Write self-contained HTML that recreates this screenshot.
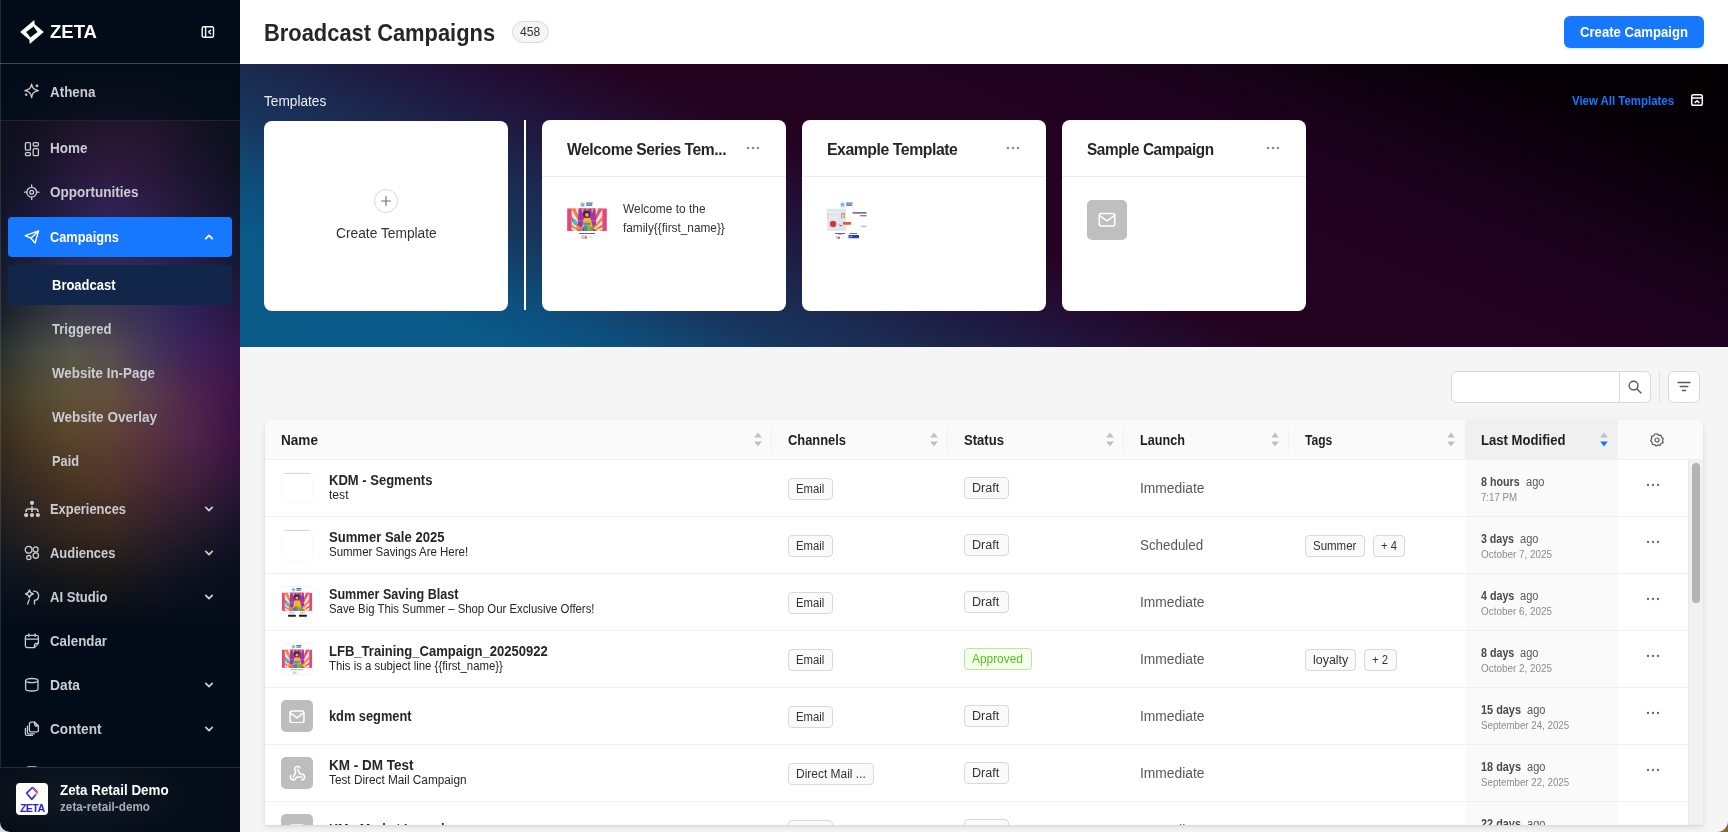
<!DOCTYPE html>
<html lang="en">
<head>
<meta charset="utf-8">
<title>Broadcast Campaigns</title>
<style>
*{box-sizing:border-box;margin:0;padding:0}
html,body{width:1728px;height:832px;overflow:hidden;background:#f5f5f5;font-family:"Liberation Sans",sans-serif;color:#222}
.abs{position:absolute}
.sx{display:inline-block;transform-origin:0 50%;transform:scaleX(.9)}
#side{position:absolute;left:0;top:0;width:240px;height:832px;background:#020c18;overflow:hidden;color:#cfd3da}
#side .glow{position:absolute;left:0;top:0;width:240px;height:832px}
.gs{position:absolute;left:0;width:240px}
.gm{position:absolute;left:0;top:0;width:100%;height:100%;-webkit-mask-image:linear-gradient(180deg,transparent,#000);mask-image:linear-gradient(180deg,transparent,#000)}
#side .top{position:absolute;left:0;top:0;width:240px;height:64px;background:#020c18;border-bottom:1px solid #444547}
#side .ath{position:absolute;left:0;top:64px;width:240px;height:57px;border-bottom:1px solid #1f2230}
.nav{position:absolute;left:8px;width:224px;height:40px;border-radius:4px;font-size:15px;font-weight:700;line-height:40px;color:#c9ccd2}
.nav span{position:absolute;left:42px;top:0;white-space:nowrap;display:inline-block;transform-origin:0 50%}
.nav.sub span{left:44px}
.nav svg.ic{position:absolute;left:16px;top:12px;width:16px;height:16px}
.nav svg.ch{position:absolute;left:195px;top:14px;width:12px;height:12px}
.nav.active{background:#1677ff;color:#fff}
.nav.sel{background:#12264a;color:#fff}
#foot{position:absolute;left:0;top:767px;width:240px;height:65px;background:radial-gradient(ellipse 120px 46px at 80px 28px,#111b26 0%,#0a131e 50%,#030c17 100%);border-top:1px solid #232a35}
#hdr{position:absolute;left:240px;top:0;width:1488px;height:64px;background:#fff}
#tpl{position:absolute;left:240px;top:64px;width:1488px;height:283px;overflow:hidden;background:#140316}
#tpl .bg1{position:absolute;left:0;top:0;width:1488px;height:283px;background:linear-gradient(22.7deg,#0a5a88 0%,#095a88 12%,#0d4f7e 18%,#17375f 25%,#1b2a50 31%,#21123a 40%,#240320 48%,#1f0220 69%,#060006 89%,#020002 100%)}
.card{position:absolute;top:56px;width:244px;height:191px;background:#fff;border-radius:8px}
.card .t{position:absolute;left:25px;top:21px;font-size:16px;font-weight:700;color:#262626;white-space:nowrap;letter-spacing:-.45px}
.card .hr{position:absolute;left:0;top:56px;width:244px;height:1px;background:#ececec}
.card .dots{position:absolute;left:204px;top:26px;width:14px;height:4px}
#tblsh{position:absolute;left:265px;top:420px;width:1438px;height:405px;background:#fff;border-radius:8px 8px 0 0;box-shadow:0 1px 2px rgba(0,0,0,.06),0 2px 6px rgba(0,0,0,.10)}
#tbl{position:absolute;left:264px;top:420px;width:1439px;height:405px;background:#fff;overflow:hidden;clip-path:inset(0 0 0 1px round 8px 8px 0 0)}

#tbl .hd{position:absolute;left:0;top:0;width:1439px;height:40px;background:#fafafa;border-bottom:1px solid #f0f0f0}
#tbl .hd .lm{position:absolute;left:1201px;top:0;width:153px;height:40px;background:#f0f0f0}
.th{position:absolute;top:12px;font-size:14px;font-weight:700;line-height:16px;color:#1f1f1f;white-space:nowrap}
.vs{position:absolute;top:9px;width:1px;height:22px;background:#f0f0f0}
.sort{position:absolute;top:12px;width:8px;height:15px}
.row{position:absolute;left:0;width:1439px;height:57px;border-bottom:1px solid #f0f0f0;background:#fff}
.row .lmc{position:absolute;left:1201px;top:0;width:153px;height:56px;background:#fafafa}
.row .nm{position:absolute;left:65px;top:13px;font-size:14px;font-weight:700;line-height:14px;color:#262626;white-space:nowrap}
.row .sb{position:absolute;left:65px;top:28px;font-size:12px;line-height:14px;color:#262626;white-space:nowrap}
.tag{position:absolute;height:22px;border:1px solid #d9d9d9;background:#fafafa;border-radius:4px}
.tg{position:absolute;font-size:12px;line-height:14px;color:#333;white-space:nowrap}
.row .ln{position:absolute;left:876px;top:20px;font-size:14px;line-height:16px;color:#595959;white-space:nowrap}
.row .d1{position:absolute;left:1217px;top:15px;font-size:12px;font-weight:700;line-height:14px;color:#4a4a4a;white-space:nowrap}
.row .ag{position:absolute;top:15px;font-size:12px;line-height:14px;color:#595959;white-space:nowrap}
.row .d2{position:absolute;left:1217px;top:32px;font-size:10px;line-height:12px;color:#8c8c8c;white-space:nowrap}
.row .mo{position:absolute;left:1382px;top:23px;width:14px;height:4px}
.thumb{position:absolute;left:17px;top:12px;width:32px;height:32px;border-radius:5px;overflow:hidden}
</style>
</head>
<body>
<div id="side"><div class="glow"><div class="gs" style="top:64px;height:57px;background:#020c18"><div class="gm" style="background:linear-gradient(90deg,#040d1a 0px,#060e1c 35px,#0a0f1e 70px,#0d1020 110px,#0c0f1f 150px,#080e1c 190px,#040d1a 240px)"></div></div><div class="gs" style="top:121px;height:49px;background:linear-gradient(90deg,#0c101c 0px,#14121f 35px,#1c1426 70px,#22162c 110px,#20152a 150px,#161322 190px,#0c101c 240px)"><div class="gm" style="background:linear-gradient(90deg,#10121e 0px,#18142a 35px,#241838 70px,#2e1a3e 110px,#2a1838 150px,#1c1430 190px,#0e1220 240px)"></div></div><div class="gs" style="top:170px;height:40px;background:linear-gradient(90deg,#10121e 0px,#18142a 35px,#241838 70px,#2e1a3e 110px,#2a1838 150px,#1c1430 190px,#0e1220 240px)"><div class="gm" style="background:linear-gradient(90deg,#12142a 0px,#1c1838 35px,#281e48 70px,#302254 110px,#2c1e48 150px,#221838 190px,#12142a 240px)"></div></div><div class="gs" style="top:210px;height:50px;background:linear-gradient(90deg,#12142a 0px,#1c1838 35px,#281e48 70px,#302254 110px,#2c1e48 150px,#221838 190px,#12142a 240px)"><div class="gm" style="background:linear-gradient(90deg,#141a2e 0px,#1e2040 35px,#2a2852 70px,#2e2a5a 110px,#2c2458 150px,#241e48 190px,#161830 240px)"></div></div><div class="gs" style="top:260px;height:52px;background:linear-gradient(90deg,#141a2e 0px,#1e2040 35px,#2a2852 70px,#2e2a5a 110px,#2c2458 150px,#241e48 190px,#161830 240px)"><div class="gm" style="background:linear-gradient(90deg,#1a2028 0px,#2c3038 35px,#3c3c4a 70px,#3c3852 110px,#362e5a 150px,#2e2258 190px,#2a1640 240px)"></div></div><div class="gs" style="top:312px;height:40px;background:linear-gradient(90deg,#1a2028 0px,#2c3038 35px,#3c3c4a 70px,#3c3852 110px,#362e5a 150px,#2e2258 190px,#2a1640 240px)"><div class="gm" style="background:linear-gradient(90deg,#2a3030 0px,#444840 35px,#56564a 70px,#564e50 110px,#44365a 150px,#3e2258 190px,#38164e 240px)"></div></div><div class="gs" style="top:352px;height:44px;background:linear-gradient(90deg,#2a3030 0px,#444840 35px,#56564a 70px,#564e50 110px,#44365a 150px,#3e2258 190px,#38164e 240px)"><div class="gm" style="background:linear-gradient(90deg,#3a3525 0px,#504830 35px,#605238 70px,#64503e 110px,#5a3c4c 150px,#50264e 190px,#3e1248 240px)"></div></div><div class="gs" style="top:396px;height:44px;background:linear-gradient(90deg,#3a3525 0px,#504830 35px,#605238 70px,#64503e 110px,#5a3c4c 150px,#50264e 190px,#3e1248 240px)"><div class="gm" style="background:linear-gradient(90deg,#382c20 0px,#4a3a26 35px,#58442a 70px,#5c4034 110px,#58343e 150px,#50264a 190px,#3c1244 240px)"></div></div><div class="gs" style="top:440px;height:45px;background:linear-gradient(90deg,#382c20 0px,#4a3a26 35px,#58442a 70px,#5c4034 110px,#58343e 150px,#50264a 190px,#3c1244 240px)"><div class="gm" style="background:linear-gradient(90deg,#2c2420 0px,#3c2c22 35px,#483422 70px,#50342a 110px,#482a32 150px,#40203a 190px,#2c1438 240px)"></div></div><div class="gs" style="top:485px;height:47px;background:linear-gradient(90deg,#2c2420 0px,#3c2c22 35px,#483422 70px,#50342a 110px,#482a32 150px,#40203a 190px,#2c1438 240px)"><div class="gm" style="background:linear-gradient(90deg,#1c1c1e 0px,#2a2220 35px,#34261e 70px,#38281e 110px,#30202a 150px,#241a28 190px,#141228 240px)"></div></div><div class="gs" style="top:532px;height:44px;background:linear-gradient(90deg,#1c1c1e 0px,#2a2220 35px,#34261e 70px,#38281e 110px,#30202a 150px,#241a28 190px,#141228 240px)"><div class="gm" style="background:linear-gradient(90deg,#0c1420 0px,#12161c 35px,#18181a 70px,#1a1818 110px,#161620 150px,#0e1220 190px,#080f1c 240px)"></div></div><div class="gs" style="top:576px;height:49px;background:linear-gradient(90deg,#0c1420 0px,#12161c 35px,#18181a 70px,#1a1818 110px,#161620 150px,#0e1220 190px,#080f1c 240px)"><div class="gm" style="background:linear-gradient(90deg,#030c18 0px,#030c18 35px,#030c18 70px,#030c18 110px,#030c18 150px,#030c18 190px,#030c18 240px)"></div></div></div>
<div class="top">
<svg class="abs" style="left:20px;top:20px" width="24" height="24" viewBox="0 0 24 24"><path d="M.1 12 L14.300 0 L14.700 4.300 L23.800 12 L9.700 24 L9.300 19.700 Z M6.200 12 L10.400 17.500 L17.500 12 L13.600 6.500 Z" fill="#fff" fill-rule="evenodd"/></svg>
<div class="abs" style="left:49.500px;top:21px;font-size:19px;font-weight:700;color:#fff;line-height:22px;transform-origin:0 50%;transform:scaleX(.975)">ZETA</div>
<svg class="abs" style="left:201px;top:25px" width="14" height="14" viewBox="0 0 14 14" fill="none" stroke="#fff" stroke-width="1.4"><rect x="1.2" y="1.7" width="11.3" height="10.6" rx="1.6"/><path d="M4.6 1.7v10.6"/><path d="M9.6 5.2 L7.6 7 L9.6 8.8" stroke-linejoin="round" stroke-linecap="round"/></svg>
</div>
<div class="ath"></div>
<div class="nav" style="top:72px"><svg class="ic" style="top:10.500px" viewBox="0 0 16 16" fill="none" stroke="#c9ccd2" stroke-width="1.3" stroke-linejoin="round"><path d="M7.6 1.2 C8.3 5.2 9.6 6.6 14.4 7.6 C9.6 8.6 8.3 10 7.6 14.6 C6.9 10 5.6 8.6 .8 7.6 C5.6 6.6 6.9 5.2 7.6 1.2Z"/><circle cx="13" cy="2.800" r="1.400" fill="#c9ccd2" stroke="none"/><circle cx="2.200" cy="11.800" r="1.200" fill="#c9ccd2" stroke="none"/></svg><span style="transform:scaleX(0.895)">Athena</span></div>
<div class="nav" style="top:128px"><svg class="ic" style="top:12.500px" viewBox="0 0 16 16" fill="none" stroke="#c9ccd2" stroke-width="1.3"><rect x="1.4" y="1.6" width="5" height="7.6" rx="1.2"/><rect x="9.2" y="1.6" width="5.2" height="3.4" rx="1.2"/><rect x="1.4" y="11.6" width="5" height="3" rx="1.2"/><rect x="9.2" y="7.6" width="5.2" height="7" rx="1.2"/></svg><span style="transform:scaleX(0.900)">Home</span></div>
<div class="nav" style="top:172px"><svg class="ic" viewBox="0 0 16 16" fill="none" stroke="#c9ccd2" stroke-width="1.3" stroke-linecap="round"><circle cx="7.7" cy="8.2" r="4.9"/><circle cx="7.7" cy="8.2" r="1.9"/><path d="M7.7 .9v2.4M7.7 13.1v2.4M.4 8.2h2.4M12.6 8.2h2.4"/></svg><span style="transform:scaleX(0.900)">Opportunities</span></div>
<div class="nav active" style="top:217px"><svg class="ic" viewBox="0 0 16 16" fill="none" stroke="#fff" stroke-width="1.4" stroke-linejoin="round" stroke-linecap="round"><path d="M14.500 1.900 L1.200 6.600 L6.800 9.200 L11.200 13.900 Z"/><path d="M14.500 1.900 L6.800 9.200"/></svg><span style="transform:scaleX(0.853)">Campaigns</span><svg class="ch" viewBox="0 0 12 12" fill="none" stroke="#fff" stroke-width="1.8" stroke-linecap="round" stroke-linejoin="round"><path d="M2.8 7.6 L6 4.4 L9.2 7.6"/></svg></div>
<div class="nav sub sel" style="top:265px"><span style="transform:scaleX(0.866)">Broadcast</span></div>
<div class="nav sub" style="top:309px"><span style="transform:scaleX(0.870)">Triggered</span></div>
<div class="nav sub" style="top:353px"><span style="transform:scaleX(0.891)">Website In-Page</span></div>
<div class="nav sub" style="top:397px"><span style="transform:scaleX(0.902)">Website Overlay</span></div>
<div class="nav sub" style="top:441px"><span style="transform:scaleX(0.852)">Paid</span></div>
<div class="nav" style="top:489px"><svg class="ic" style="top:11px;height:18px" viewBox="0 0 16 18" fill="none" stroke="#c9ccd2" stroke-width="1.600"><circle cx="8" cy="2.900" r="2.100" fill="#c9ccd2" stroke="none"/><circle cx="2.100" cy="15.100" r="2.100" fill="#c9ccd2" stroke="none"/><circle cx="8" cy="15.100" r="2.100" fill="#c9ccd2" stroke="none"/><circle cx="13.900" cy="15.100" r="2.100" fill="#c9ccd2" stroke="none"/><path d="M8 6.200v5.800M2.200 12V10.600a1.600 1.600 0 0 1 1.600-1.600h8.400a1.600 1.600 0 0 1 1.600 1.600V12"/></svg><span style="transform:scaleX(0.860)">Experiences</span><svg class="ch" viewBox="0 0 12 12" fill="none" stroke="#c9ccd2" stroke-width="1.8" stroke-linecap="round" stroke-linejoin="round"><path d="M2.8 4.4 L6 7.6 L9.2 4.4"/></svg></div>
<div class="nav" style="top:533px"><svg class="ic" style="top:11.500px" viewBox="0 0 16 16" fill="none" stroke="#c9ccd2" stroke-width="1.3"><circle cx="4.6" cy="4.8" r="3.4"/><circle cx="11.6" cy="4.4" r="2.5"/><circle cx="11.8" cy="10.6" r="2.7"/><circle cx="4.8" cy="12.6" r="2.1"/></svg><span style="transform:scaleX(0.863)">Audiences</span><svg class="ch" viewBox="0 0 12 12" fill="none" stroke="#c9ccd2" stroke-width="1.8" stroke-linecap="round" stroke-linejoin="round"><path d="M2.8 4.4 L6 7.6 L9.2 4.4"/></svg></div>
<div class="nav" style="top:577px"><svg class="ic" viewBox="0 0 16 16" fill="none" stroke="#c9ccd2" stroke-width="1.3" stroke-linecap="round" stroke-linejoin="round"><path d="M5.4 .8 C5.8 3.4 6.6 4.2 9.4 4.8 C6.6 5.4 5.8 6.2 5.4 8.8 C5 6.2 4.2 5.4 1.4 4.8 C4.2 4.2 5 3.4 5.4 .8Z"/><path d="M9.600 2.200 C13 2 14.800 4.400 14.600 7 C14.500 9.200 13.400 10.800 12 11.200 L10.500 11.200 L10.500 15"/><path d="M5.200 10.600 L3.600 15"/></svg><span style="transform:scaleX(0.873)">AI Studio</span><svg class="ch" viewBox="0 0 12 12" fill="none" stroke="#c9ccd2" stroke-width="1.8" stroke-linecap="round" stroke-linejoin="round"><path d="M2.8 4.4 L6 7.6 L9.2 4.4"/></svg></div>
<div class="nav" style="top:621px"><svg class="ic" viewBox="0 0 16 16" fill="none" stroke="#c9ccd2" stroke-width="1.3" stroke-linecap="round" stroke-linejoin="round"><path d="M4.8 .8v2.6M11 .8v2.6"/><path d="M14.4 10.4V4.2a1.8 1.8 0 0 0-1.8-1.8H3.2a1.8 1.8 0 0 0-1.8 1.8v8.6a1.8 1.8 0 0 0 1.8 1.8h7.2z"/><path d="M1.4 6.2h13"/><path d="M14.4 10.4h-2.2a1.8 1.8 0 0 0-1.8 1.8v2.4"/></svg><span style="transform:scaleX(0.888)">Calendar</span></div>
<div class="nav" style="top:665px"><svg class="ic" style="top:11.500px" viewBox="0 0 16 16" fill="none" stroke="#c9ccd2" stroke-width="1.3"><ellipse cx="7.800" cy="3.600" rx="6.200" ry="2.100"/><path d="M1.600 3.600v8.200c0 1.200 2.800 2.200 6.200 2.200s6.200-1 6.200-2.200V3.600"/></svg><span style="transform:scaleX(0.923)">Data</span><svg class="ch" viewBox="0 0 12 12" fill="none" stroke="#c9ccd2" stroke-width="1.8" stroke-linecap="round" stroke-linejoin="round"><path d="M2.8 4.4 L6 7.6 L9.2 4.4"/></svg></div>
<div class="nav" style="top:709px"><svg class="ic" viewBox="0 0 16 16" fill="none" stroke="#c9ccd2" stroke-width="1.3" stroke-linecap="round" stroke-linejoin="round"><path d="M10.6 1.2H7a1.6 1.6 0 0 0-1.6 1.6v6.4A1.6 1.6 0 0 0 7 10.800h5.800a1.600 1.600 0 0 0 1.600-1.600V5z"/><path d="M10.600 1.200V3.600a1.400 1.400 0 0 0 1.400 1.400h2.400z"/><path d="M3.400 5.200v6a1.600 1.600 0 0 0 1.600 1.600h5.400"/><path d="M1.400 7.400v5.400a1.600 1.600 0 0 0 1.600 1.600h5.400"/></svg><span style="transform:scaleX(0.909)">Content</span><svg class="ch" viewBox="0 0 12 12" fill="none" stroke="#c9ccd2" stroke-width="1.800" stroke-linecap="round" stroke-linejoin="round"><path d="M2.800 4.400 L6 7.600 L9.200 4.400"/></svg></div>
<div class="nav" style="top:753px"><svg class="ic" viewBox="0 0 16 16" fill="none" stroke="#c9ccd2" stroke-width="1.3"><rect x="1.600" y="1.800" width="12.400" height="12" rx="3"/></svg><span style="transform:scaleX(0.880)">Analytics</span></div>
<div class="abs" style="left:0;top:0;width:1px;height:832px;background:rgba(255,255,255,.12)"></div>
<div id="foot">
<div class="abs" style="left:16px;top:15px;width:32px;height:32px;border-radius:4px;background:#fff"></div>
<svg class="abs" style="left:26px;top:19px" width="12" height="13" viewBox="0 0 12 13"><path d="M6.600 .4 L11.400 5.600 L5.800 12.400 L.6 6.200Z" fill="none" stroke="#3b34d6" stroke-width="1.700"/><path d="M6.600 .4 L11.400 5.600" stroke="#e0359a" stroke-width="1.700" fill="none"/><path d="M11.400 5.600 L9.400 8" stroke="#f2b21c" stroke-width="1.700"/></svg>
<div class="abs" style="left:20px;top:34.500px;font-size:10.500px;font-weight:700;color:#2a23c8;letter-spacing:-.55px;line-height:11px">ZETA</div>
<div class="abs sx" style="transform:scaleX(0.892);left:60px;top:13px;font-size:15px;font-weight:700;color:#fff;line-height:18px;white-space:nowrap">Zeta Retail Demo</div>
<div class="abs sx" style="transform:scaleX(0.903);left:60px;top:31px;font-size:13px;font-weight:700;color:#a9adb5;line-height:16px;white-space:nowrap">zeta-retail-demo</div>
</div>
</div>
<div id="hdr">
<div class="abs sx" id="title" style="transform:scaleX(0.912);left:24px;top:18px;font-size:24px;font-weight:700;line-height:30px;color:#262626;white-space:nowrap">Broadcast Campaigns</div>
<div class="abs" style="left:272px;top:21px;width:37px;height:22px;border-radius:11px;background:#f5f5f5;border:1px solid #d9d9d9"></div>
<div class="abs sx" id="cnt" style="transform:scaleX(0.935);left:280px;top:24px;font-size:13px;line-height:16px;color:#333">458</div>
<div class="abs" style="left:1324px;top:16px;width:140px;height:32px;border-radius:6px;background:#1677ff;box-shadow:0 2px 0 rgba(5,145,255,.1)"></div>
<div class="abs sx" id="cc" style="transform:scaleX(0.875);left:1340px;top:22px;font-size:15px;font-weight:700;line-height:20px;color:#fff;white-space:nowrap">Create Campaign</div>
</div>
<div id="tpl">
<div class="bg1"></div>
<div class="abs sx" id="tl" style="transform:scaleX(0.976);left:24px;top:28px;font-size:14px;line-height:18px;color:#eceef4;white-space:nowrap">Templates</div>
<div class="abs sx" id="vat" style="transform:scaleX(0.879);left:1331.500px;top:29px;font-size:13px;font-weight:700;line-height:16px;color:#1677ff;white-space:nowrap">View All Templates</div>
<svg class="abs" style="left:1450px;top:29px" width="14" height="14" viewBox="0 0 14 14" fill="none" stroke="#fff" stroke-width="1.500" stroke-linejoin="round" stroke-linecap="round"><rect x="1.700" y="1.700" width="10.600" height="10.600" rx="1.800"/><path d="M1.700 4.900h10.600"/><path d="M5.200 9.400 L7 7.700 L8.800 9.400"/></svg>
<div class="card" style="left:24px;top:57px;height:190px">
 <div class="abs" style="left:110px;top:68px;width:24px;height:24px;border-radius:12px;border:1px solid #d9d9d9"></div>
 <svg class="abs" style="left:116px;top:74px" width="12" height="12" viewBox="0 0 12 12" stroke="#6b7280" stroke-width="1.200"><path d="M6 1.200v9.600M1.200 6h9.600"/></svg>
 <div class="abs sx" id="ct" style="transform:scaleX(0.983);left:71.500px;top:102px;font-size:14px;line-height:20px;color:#333;white-space:nowrap">Create Template</div>
</div>
<div class="abs" style="left:284px;top:56px;width:2px;height:190px;background:#fff"></div>
<div class="card" style="left:302px">
 <div class="t sx" style="transform:scaleX(0.979)">Welcome Series Tem...</div><svg class="dots" viewBox="0 0 14 4"><circle cx="2" cy="2" r="1.300" fill="#8c8c8c"/><circle cx="7" cy="2" r="1.300" fill="#8c8c8c"/><circle cx="12" cy="2" r="1.300" fill="#8c8c8c"/></svg><div class="hr"></div>
 <div class="abs th1" style="left:25px;top:80px;width:40px;height:40px"><svg class="abs" style="left:0;top:0" width="100%" height="100%" viewBox="0 0 40 40"><clipPath id="cpa"><rect x="4.800" y="8.500" width="30.400" height="22.500"/></clipPath><rect width="40" height="40" fill="#fff"/><path d="M15.600 1.600l.9 1.900 2 .3-1.500 1.400.4 2-1.800-1-1.800 1 .4-2-1.500-1.400 2-.3z" fill="#7fb2ea"/><rect x="19.200" y="2.500" width="6.400" height="1.200" fill="#666"/><rect x="19.200" y="4.200" width="6" height="1.800" fill="#4a8fe0"/><rect x=".2" y="8.500" width="39.600" height="22.500" fill="#e2477f"/><g clip-path="url(#cpa)"><rect x="4" y="8" width="32" height="24" fill="#fae4d6"/><path d="M20 36L-40.0 36.0L-39.5 28.2Z" fill="#f0843c"/><path d="M20 36L-39.5 28.2L-38.0 20.5Z" fill="#fae9dc"/><path d="M20 36L-38.0 20.5L-35.4 13.0Z" fill="#ea5468"/><path d="M20 36L-35.4 13.0L-32.0 6.0Z" fill="#fae9dc"/><path d="M20 36L-32.0 6.0L-27.6 -0.5Z" fill="#f0843c"/><path d="M20 36L-27.6 -0.5L-22.4 -6.4Z" fill="#fae9dc"/><path d="M20 36L-22.4 -6.4L-16.5 -11.6Z" fill="#ea5468"/><path d="M20 36L-16.5 -11.6L-10.0 -16.0Z" fill="#fae9dc"/><path d="M20 36L-10.0 -16.0L-3.0 -19.4Z" fill="#f0843c"/><path d="M20 36L-3.0 -19.4L4.5 -22.0Z" fill="#fae9dc"/><path d="M20 36L4.5 -22.0L12.2 -23.5Z" fill="#ea5468"/><path d="M20 36L12.2 -23.5L20.0 -24.0Z" fill="#fae9dc"/><path d="M20 36L20.0 -24.0L27.8 -23.5Z" fill="#fae9dc"/><path d="M20 36L27.8 -23.5L35.5 -22.0Z" fill="#f0843c"/><path d="M20 36L35.5 -22.0L43.0 -19.4Z" fill="#fae9dc"/><path d="M20 36L43.0 -19.4L50.0 -16.0Z" fill="#ea5468"/><path d="M20 36L50.0 -16.0L56.5 -11.6Z" fill="#fae9dc"/><path d="M20 36L56.5 -11.6L62.4 -6.4Z" fill="#f0843c"/><path d="M20 36L62.4 -6.4L67.6 -0.5Z" fill="#fae9dc"/><path d="M20 36L67.6 -0.5L72.0 6.0Z" fill="#ea5468"/><path d="M20 36L72.0 6.0L75.4 13.0Z" fill="#fae9dc"/><path d="M20 36L75.4 13.0L78.0 20.5Z" fill="#f0843c"/><path d="M20 36L78.0 20.5L79.5 28.2Z" fill="#fae9dc"/><path d="M20 36L79.5 28.2L80.0 36.0Z" fill="#ea5468"/></g><path d="M11.500 8.500L28.500 8.500L29.500 31L10.500 31Z" fill="#a333ab"/><path d="M14 8.500l1.500 5 1.500-5zM19 8.500l1.200 3.500 1.200-3.500zM24 8.500l1.200 5 1.600-5z" fill="#f39a4a"/><rect x="9" y="20.500" width="22" height=".7" fill="#d9a6dc" opacity=".7"/><circle cx="19.700" cy="14.200" r="3.500" fill="#3b2a22"/><circle cx="19.900" cy="14.900" r="1.900" fill="#e2a688"/><path d="M16.800 18L23.400 18L26 27.500L15 27.500Z" fill="#f6b91c"/><rect x="16.800" y="25.500" width="3.800" height="5.500" fill="#17a7a0"/><rect x="20.600" y="25.500" width="2.600" height="5.500" fill="#f08c2c"/><rect x="5.800" y="19.500" width="4.200" height="5.600" rx=".6" transform="rotate(-38 7.900 22.300)" fill="#36c9c2"/><rect x="9.200" y="25.800" width="4" height="4.200" rx=".5" transform="rotate(20 11 28)" fill="#f28a2e"/><rect x="13.600" y="27" width="1.800" height="4" fill="#f27aa6"/><path d="M23.200 26.200l3.400 1.200-1 3.600-3-.4z" fill="#4fbe3a"/><rect x="27" y="25.800" width="4" height="4" rx=".5" transform="rotate(25 29 27.800)" fill="#f6c437"/><rect x="16.200" y="22.400" width="7.400" height="2.600" rx=".4" fill="#4d8fe6"/><rect x="12" y="33.100" width="16" height=".9" fill="#555"/><rect x="14" y="35.400" width="6" height="3.600" fill="#d8c4c0"/><rect x="18.400" y="36.600" width="1.400" height="2" fill="#d05050"/><rect x="21.400" y="35.400" width="4" height="2.600" fill="#ececec"/><rect x="2" y="38.600" width="6" height=".5" fill="#e4e4e4"/></svg></div>
 <div class="abs sx b1" style="transform:scaleX(0.916);left:81px;top:79px;font-size:13px;line-height:19px;color:#333;white-space:nowrap">Welcome to the</div>
 <div class="abs sx b2" style="transform:scaleX(0.909);left:81px;top:98px;font-size:13px;line-height:19px;color:#333;white-space:nowrap">family{{first_name}}</div>
</div>
<div class="card" style="left:562px">
 <div class="t sx" style="transform:scaleX(0.987)">Example Template</div><svg class="dots" viewBox="0 0 14 4"><circle cx="2" cy="2" r="1.300" fill="#8c8c8c"/><circle cx="7" cy="2" r="1.300" fill="#8c8c8c"/><circle cx="12" cy="2" r="1.300" fill="#8c8c8c"/></svg><div class="hr"></div>
 <div class="abs th2" style="left:25px;top:80px;width:40px;height:40px"><svg class="abs" style="left:0;top:0" width="40" height="40" viewBox="0 0 40 40"><rect width="40" height="40" fill="#fff"/><path d="M15.600 1.600l.9 1.900 2 .3-1.500 1.400.4 2-1.800-1-1.800 1 .4-2-1.500-1.400 2-.3z" fill="#7fb2ea"/><rect x="19.200" y="2.500" width="6.400" height="1.200" fill="#666"/><rect x="19.200" y="4.200" width="6" height="1.800" fill="#4a8fe0"/><rect x=".2" y="8.700" width="18.800" height="22.200" fill="#e1e5ee"/><rect x="1" y="12" width="11" height=".8" fill="#f4f6fa"/><rect x="1" y="17" width="10" height=".8" fill="#f4f6fa"/><rect x=".2" y="13" width="1.200" height="2" fill="#e8c070"/><rect x=".2" y="17" width="1.200" height="1.600" fill="#e8c070"/><rect x="14" y="13" width="4" height="5.200" fill="#c9a274"/><rect x="15.200" y="14.600" width="1.400" height="3" fill="#f3e6d6"/><circle cx="6.100" cy="24" r="3.300" fill="#cf4a44"/><circle cx="6.100" cy="24" r="2.300" fill="#c83636"/><path d="M11 24.500l4 .8-.4 1.200z" fill="#555"/><rect x="16" y="22" width="8" height="2.800" rx=".3" fill="#f1552f"/><rect x="25.500" y="12" width="14" height="1.700" fill="#777"/><rect x="33" y="15" width="6.600" height="1.400" fill="#888"/><rect x="33" y="25.400" width="6.600" height="2" fill="#e6e6e6"/><rect x="35" y="26" width="4" height=".8" fill="#aaa"/><rect x="8.200" y="33" width="9.800" height=".9" fill="#555"/><rect x="11" y="34.400" width="4.600" height=".6" fill="#999"/><rect x="22.400" y="33" width="7.600" height=".9" fill="#666"/><rect x="8.600" y="36" width="4.400" height="3" fill="#d8d0d0"/><rect x="11" y="37" width="1.600" height="1.800" fill="#d04a4a"/><rect x="14.600" y="36" width="2.400" height="2.400" fill="#f0f0f0"/><rect x="21.500" y="35" width="10.500" height="3.200" rx=".6" fill="#2438c4"/><rect x="22.500" y="35.800" width="3" height="1.600" fill="#6a9ad8"/></svg></div>
</div>
<div class="card" style="left:822px">
 <div class="t sx" style="transform:scaleX(0.960)">Sample Campaign</div><svg class="dots" viewBox="0 0 14 4"><circle cx="2" cy="2" r="1.300" fill="#8c8c8c"/><circle cx="7" cy="2" r="1.300" fill="#8c8c8c"/><circle cx="12" cy="2" r="1.300" fill="#8c8c8c"/></svg><div class="hr"></div>
 <div class="abs" style="left:25px;top:80px;width:40px;height:40px;border-radius:5px;background:#bfbfbf"></div>
 <svg class="abs" style="left:36px;top:92px" width="18" height="16" viewBox="0 0 18 16" fill="none" stroke="#fff" stroke-width="1.500" stroke-linejoin="round" stroke-linecap="round"><rect x="1.200" y="1.600" width="15.600" height="12.400" rx="2"/><path d="M1.600 3.600 L9 8.800 L16.400 3.600"/></svg>
</div>
</div>
<div id="tool">
<div class="abs" style="left:1451px;top:371px;width:200px;height:32px;border:1px solid #d9d9d9;border-radius:6px;background:#fff"></div>
<div class="abs" style="left:1619px;top:372px;width:1px;height:30px;background:#d9d9d9"></div>
<svg class="abs" style="left:1627px;top:379px" width="16" height="16" viewBox="0 0 16 16" fill="none" stroke="#595959" stroke-width="1.400" stroke-linecap="round"><circle cx="6.600" cy="6.600" r="4.400"/><path d="M10 10 L14 14"/></svg>
<div class="abs" style="left:1659px;top:371px;width:1px;height:32px;background:#e2e2e2"></div>
<div class="abs" style="left:1668px;top:371px;width:32px;height:32px;border:1px solid #d9d9d9;border-radius:6px;background:#fff"></div>
<svg class="abs" style="left:1677px;top:379.500px" width="14" height="14" viewBox="0 0 14 14" fill="none" stroke="#595959" stroke-width="1.300" stroke-linecap="round"><path d="M1 2.500h12M3.200 6.500h7.600M5.400 10.500h3.200"/></svg>
</div>
<div id="tblsh"></div>
<div id="tbl">
<div class="hd"><div class="lm"></div><div class="th sx" style="transform:scaleX(0.970);left:17px">Name</div><div class="th sx" style="transform:scaleX(0.920);left:524px">Channels</div><div class="th sx" style="transform:scaleX(0.935);left:700px">Status</div><div class="th sx" style="transform:scaleX(0.904);left:876px">Launch</div><div class="th sx" style="transform:scaleX(0.860);left:1041px">Tags</div><div class="th sx" style="transform:scaleX(0.936);left:1217px">Last Modified</div><div class="vs" style="left:507px"></div><div class="vs" style="left:683px"></div><div class="vs" style="left:859px"></div><div class="vs" style="left:1024px"></div><svg class="sort" style="left:490px" viewBox="0 0 8 15"><path d="M4 .4 L7.8 5.400 H.2Z" fill="#bfbfbf"/><path d="M4 14.600 L7.800 9.600 H.2Z" fill="#bfbfbf"/></svg><svg class="sort" style="left:666px" viewBox="0 0 8 15"><path d="M4 .4 L7.8 5.400 H.2Z" fill="#bfbfbf"/><path d="M4 14.600 L7.800 9.600 H.2Z" fill="#bfbfbf"/></svg><svg class="sort" style="left:842px" viewBox="0 0 8 15"><path d="M4 .4 L7.8 5.400 H.2Z" fill="#bfbfbf"/><path d="M4 14.600 L7.800 9.600 H.2Z" fill="#bfbfbf"/></svg><svg class="sort" style="left:1007px" viewBox="0 0 8 15"><path d="M4 .4 L7.8 5.400 H.2Z" fill="#bfbfbf"/><path d="M4 14.600 L7.800 9.600 H.2Z" fill="#bfbfbf"/></svg><svg class="sort" style="left:1183px" viewBox="0 0 8 15"><path d="M4 .4 L7.8 5.400 H.2Z" fill="#bfbfbf"/><path d="M4 14.600 L7.800 9.600 H.2Z" fill="#bfbfbf"/></svg><svg class="sort" style="left:1336px" viewBox="0 0 8 15"><path d="M4 .4 L7.8 5.400 H.2Z" fill="#bfbfbf"/><path d="M4 14.600 L7.800 9.600 H.2Z" fill="#1677ff"/></svg><svg class="abs" style="left:1386px;top:13px" width="14" height="14" viewBox="0 0 14 14" fill="none" stroke="#595959" stroke-width="1.200" stroke-linejoin="round"><circle cx="7" cy="7" r="2"/><path d="M7 .8 L8.600 2.300 L10.800 2.100 L11.500 4.200 L13.300 5.400 L12.500 7.500 L13.100 9.600 L11.100 10.500 L10 12.400 L7.900 11.900 L6 13 L4.500 11.500 L2.300 11.300 L2 9.100 L.6 7.500 L1.700 5.600 L1.500 3.400 L3.600 2.800 L4.800 1 Z"/></svg></div>
<div class="row" style="top:40px"><div class="lmc"></div><div class="thumb" style="background:#fff;border:1px solid #fafafa"><div class="abs" style="left:1px;top:0;width:28px;height:1px;background:#d6d6d6"></div></div><div class="nm sx" style="transform:scaleX(0.930)">KDM - Segments</div><div class="sb sx" style="transform:scaleX(1.008)">test</div><div class="tag" style="left:524px;top:18px;width:45px"></div><div class="tg sx" style="transform:scaleX(0.943);left:532px;top:22px">Email</div><div class="tag" style="left:700px;top:17px;width:45px"></div><div class="tg sx" style="transform:scaleX(1.049);left:708px;top:21px">Draft</div><div class="ln sx" style="transform:scaleX(0.987)">Immediate</div><div class="d1 sx" style="transform:scaleX(0.891)">8 hours</div><div class="ag sx" style="transform:scaleX(0.919);left:1261.8px">ago</div><div class="d2 sx" style="transform:scaleX(0.966)">7:17 PM</div><svg class="mo" viewBox="0 0 14 4"><circle cx="2" cy="2" r="1.150" fill="#666"/><circle cx="7" cy="2" r="1.150" fill="#666"/><circle cx="12" cy="2" r="1.150" fill="#666"/></svg></div>
<div class="row" style="top:97px"><div class="lmc"></div><div class="thumb" style="background:#fff;border:1px solid #fafafa"><div class="abs" style="left:1px;top:0;width:28px;height:1px;background:#d6d6d6"></div></div><div class="nm sx" style="transform:scaleX(0.933)">Summer Sale 2025</div><div class="sb sx" style="transform:scaleX(0.957)">Summer Savings Are Here!</div><div class="tag" style="left:524px;top:18px;width:45px"></div><div class="tg sx" style="transform:scaleX(0.943);left:532px;top:22px">Email</div><div class="tag" style="left:700px;top:17px;width:45px"></div><div class="tg sx" style="transform:scaleX(1.049);left:708px;top:21px">Draft</div><div class="ln sx" style="transform:scaleX(0.955)">Scheduled</div><div class="tag" style="left:1041px;top:18px;width:60px"></div><div class="tg sx" style="transform:scaleX(0.957);left:1049px;top:22px">Summer</div><div class="tag" style="left:1109px;top:18px;width:32px"></div><div class="tg sx" style="transform:scaleX(0.934);left:1117px;top:22px">+ 4</div><div class="d1 sx" style="transform:scaleX(0.883)">3 days</div><div class="ag sx" style="transform:scaleX(0.919);left:1256.0px">ago</div><div class="d2 sx" style="transform:scaleX(0.991)">October 7, 2025</div><svg class="mo" viewBox="0 0 14 4"><circle cx="2" cy="2" r="1.150" fill="#666"/><circle cx="7" cy="2" r="1.150" fill="#666"/><circle cx="12" cy="2" r="1.150" fill="#666"/></svg></div>
<div class="row" style="top:154px"><div class="lmc"></div><div class="thumb" style="border:1px solid #f4f4f4"><svg class="abs" style="left:-1px;top:-1px;width:32px;height:32px" width="100%" height="100%" viewBox="0 0 40 40"><clipPath id="cpb"><rect x="4.800" y="8.500" width="30.400" height="22.500"/></clipPath><rect width="40" height="40" fill="#fff"/><path d="M15.600 1.600l.9 1.900 2 .3-1.500 1.400.4 2-1.800-1-1.800 1 .4-2-1.500-1.400 2-.3z" fill="#7fb2ea"/><rect x="19.200" y="2.500" width="6.400" height="1.200" fill="#666"/><rect x="19.200" y="4.200" width="6" height="1.800" fill="#4a8fe0"/><rect x=".2" y="8.500" width="39.600" height="22.500" fill="#e2477f"/><g clip-path="url(#cpb)"><rect x="4" y="8" width="32" height="24" fill="#fae4d6"/><path d="M20 36L-40.0 36.0L-39.5 28.2Z" fill="#f0843c"/><path d="M20 36L-39.5 28.2L-38.0 20.5Z" fill="#fae9dc"/><path d="M20 36L-38.0 20.5L-35.4 13.0Z" fill="#ea5468"/><path d="M20 36L-35.4 13.0L-32.0 6.0Z" fill="#fae9dc"/><path d="M20 36L-32.0 6.0L-27.6 -0.5Z" fill="#f0843c"/><path d="M20 36L-27.6 -0.5L-22.4 -6.4Z" fill="#fae9dc"/><path d="M20 36L-22.4 -6.4L-16.5 -11.6Z" fill="#ea5468"/><path d="M20 36L-16.5 -11.6L-10.0 -16.0Z" fill="#fae9dc"/><path d="M20 36L-10.0 -16.0L-3.0 -19.4Z" fill="#f0843c"/><path d="M20 36L-3.0 -19.4L4.5 -22.0Z" fill="#fae9dc"/><path d="M20 36L4.5 -22.0L12.2 -23.5Z" fill="#ea5468"/><path d="M20 36L12.2 -23.5L20.0 -24.0Z" fill="#fae9dc"/><path d="M20 36L20.0 -24.0L27.8 -23.5Z" fill="#fae9dc"/><path d="M20 36L27.8 -23.5L35.5 -22.0Z" fill="#f0843c"/><path d="M20 36L35.5 -22.0L43.0 -19.4Z" fill="#fae9dc"/><path d="M20 36L43.0 -19.4L50.0 -16.0Z" fill="#ea5468"/><path d="M20 36L50.0 -16.0L56.5 -11.6Z" fill="#fae9dc"/><path d="M20 36L56.5 -11.6L62.4 -6.4Z" fill="#f0843c"/><path d="M20 36L62.4 -6.4L67.6 -0.5Z" fill="#fae9dc"/><path d="M20 36L67.6 -0.5L72.0 6.0Z" fill="#ea5468"/><path d="M20 36L72.0 6.0L75.4 13.0Z" fill="#fae9dc"/><path d="M20 36L75.4 13.0L78.0 20.5Z" fill="#f0843c"/><path d="M20 36L78.0 20.5L79.5 28.2Z" fill="#fae9dc"/><path d="M20 36L79.5 28.2L80.0 36.0Z" fill="#ea5468"/></g><path d="M11.500 8.500L28.500 8.500L29.500 31L10.500 31Z" fill="#a333ab"/><path d="M14 8.500l1.500 5 1.500-5zM19 8.500l1.200 3.500 1.200-3.500zM24 8.500l1.200 5 1.600-5z" fill="#f39a4a"/><rect x="9" y="20.500" width="22" height=".7" fill="#d9a6dc" opacity=".7"/><circle cx="19.700" cy="14.200" r="3.500" fill="#3b2a22"/><circle cx="19.900" cy="14.900" r="1.900" fill="#e2a688"/><path d="M16.800 18L23.400 18L26 27.500L15 27.500Z" fill="#f6b91c"/><rect x="16.800" y="25.500" width="3.800" height="5.500" fill="#17a7a0"/><rect x="20.600" y="25.500" width="2.600" height="5.500" fill="#f08c2c"/><rect x="5.800" y="19.500" width="4.200" height="5.600" rx=".6" transform="rotate(-38 7.900 22.300)" fill="#36c9c2"/><rect x="9.200" y="25.800" width="4" height="4.200" rx=".5" transform="rotate(20 11 28)" fill="#f28a2e"/><rect x="13.600" y="27" width="1.800" height="4" fill="#f27aa6"/><path d="M23.200 26.200l3.400 1.200-1 3.600-3-.4z" fill="#4fbe3a"/><rect x="27" y="25.800" width="4" height="4" rx=".5" transform="rotate(25 29 27.800)" fill="#f6c437"/><rect x="10.500" y="33" width="6" height="1.200" fill="#aaa"/><rect x="23.500" y="33" width="7" height="1.200" fill="#aaa"/><rect x="8.800" y="35.800" width="9.800" height="2.700" rx=".6" fill="#222"/><rect x="22.400" y="35.800" width="10" height="2.700" rx=".6" fill="#1a1a2a"/></svg></div><div class="nm sx" style="transform:scaleX(0.900)">Summer Saving Blast</div><div class="sb sx" style="transform:scaleX(0.947)">Save Big This Summer – Shop Our Exclusive Offers!</div><div class="tag" style="left:524px;top:18px;width:45px"></div><div class="tg sx" style="transform:scaleX(0.943);left:532px;top:22px">Email</div><div class="tag" style="left:700px;top:17px;width:45px"></div><div class="tg sx" style="transform:scaleX(1.049);left:708px;top:21px">Draft</div><div class="ln sx" style="transform:scaleX(0.987)">Immediate</div><div class="d1 sx" style="transform:scaleX(0.891)">4 days</div><div class="ag sx" style="transform:scaleX(0.919);left:1256.0px">ago</div><div class="d2 sx" style="transform:scaleX(0.991)">October 6, 2025</div><svg class="mo" viewBox="0 0 14 4"><circle cx="2" cy="2" r="1.150" fill="#666"/><circle cx="7" cy="2" r="1.150" fill="#666"/><circle cx="12" cy="2" r="1.150" fill="#666"/></svg></div>
<div class="row" style="top:211px"><div class="lmc"></div><div class="thumb" style="border:1px solid #f4f4f4"><svg class="abs" style="left:-1px;top:-1px;width:32px;height:32px" width="100%" height="100%" viewBox="0 0 40 40"><clipPath id="cpc"><rect x="4.800" y="8.500" width="30.400" height="22.500"/></clipPath><rect width="40" height="40" fill="#fff"/><path d="M15.600 1.600l.9 1.900 2 .3-1.500 1.400.4 2-1.800-1-1.800 1 .4-2-1.500-1.400 2-.3z" fill="#7fb2ea"/><rect x="19.200" y="2.500" width="6.400" height="1.200" fill="#666"/><rect x="19.200" y="4.200" width="6" height="1.800" fill="#4a8fe0"/><rect x=".2" y="8.500" width="39.600" height="22.500" fill="#e2477f"/><g clip-path="url(#cpc)"><rect x="4" y="8" width="32" height="24" fill="#fae4d6"/><path d="M20 36L-40.0 36.0L-39.5 28.2Z" fill="#f0843c"/><path d="M20 36L-39.5 28.2L-38.0 20.5Z" fill="#fae9dc"/><path d="M20 36L-38.0 20.5L-35.4 13.0Z" fill="#ea5468"/><path d="M20 36L-35.4 13.0L-32.0 6.0Z" fill="#fae9dc"/><path d="M20 36L-32.0 6.0L-27.6 -0.5Z" fill="#f0843c"/><path d="M20 36L-27.6 -0.5L-22.4 -6.4Z" fill="#fae9dc"/><path d="M20 36L-22.4 -6.4L-16.5 -11.6Z" fill="#ea5468"/><path d="M20 36L-16.5 -11.6L-10.0 -16.0Z" fill="#fae9dc"/><path d="M20 36L-10.0 -16.0L-3.0 -19.4Z" fill="#f0843c"/><path d="M20 36L-3.0 -19.4L4.5 -22.0Z" fill="#fae9dc"/><path d="M20 36L4.5 -22.0L12.2 -23.5Z" fill="#ea5468"/><path d="M20 36L12.2 -23.5L20.0 -24.0Z" fill="#fae9dc"/><path d="M20 36L20.0 -24.0L27.8 -23.5Z" fill="#fae9dc"/><path d="M20 36L27.8 -23.5L35.5 -22.0Z" fill="#f0843c"/><path d="M20 36L35.5 -22.0L43.0 -19.4Z" fill="#fae9dc"/><path d="M20 36L43.0 -19.4L50.0 -16.0Z" fill="#ea5468"/><path d="M20 36L50.0 -16.0L56.5 -11.6Z" fill="#fae9dc"/><path d="M20 36L56.5 -11.6L62.4 -6.4Z" fill="#f0843c"/><path d="M20 36L62.4 -6.4L67.6 -0.5Z" fill="#fae9dc"/><path d="M20 36L67.6 -0.5L72.0 6.0Z" fill="#ea5468"/><path d="M20 36L72.0 6.0L75.4 13.0Z" fill="#fae9dc"/><path d="M20 36L75.4 13.0L78.0 20.5Z" fill="#f0843c"/><path d="M20 36L78.0 20.5L79.5 28.2Z" fill="#fae9dc"/><path d="M20 36L79.5 28.2L80.0 36.0Z" fill="#ea5468"/></g><path d="M11.500 8.500L28.500 8.500L29.500 31L10.500 31Z" fill="#a333ab"/><path d="M14 8.500l1.500 5 1.500-5zM19 8.500l1.200 3.500 1.200-3.500zM24 8.500l1.200 5 1.600-5z" fill="#f39a4a"/><rect x="9" y="20.500" width="22" height=".7" fill="#d9a6dc" opacity=".7"/><circle cx="19.700" cy="14.200" r="3.500" fill="#3b2a22"/><circle cx="19.900" cy="14.900" r="1.900" fill="#e2a688"/><path d="M16.800 18L23.400 18L26 27.500L15 27.500Z" fill="#f6b91c"/><rect x="16.800" y="25.500" width="3.800" height="5.500" fill="#17a7a0"/><rect x="20.600" y="25.500" width="2.600" height="5.500" fill="#f08c2c"/><rect x="5.800" y="19.500" width="4.200" height="5.600" rx=".6" transform="rotate(-38 7.900 22.300)" fill="#36c9c2"/><rect x="9.200" y="25.800" width="4" height="4.200" rx=".5" transform="rotate(20 11 28)" fill="#f28a2e"/><rect x="13.600" y="27" width="1.800" height="4" fill="#f27aa6"/><path d="M23.200 26.200l3.400 1.200-1 3.600-3-.4z" fill="#4fbe3a"/><rect x="27" y="25.800" width="4" height="4" rx=".5" transform="rotate(25 29 27.800)" fill="#f6c437"/><rect x="16.200" y="22.400" width="7.400" height="2.600" rx=".4" fill="#4d8fe6"/><rect x="12" y="33.100" width="16" height=".8" fill="#888"/><rect x="14.500" y="35.600" width="5" height="3" fill="#dcd0cc"/><rect x="21.500" y="35.600" width="3" height="1.200" fill="#e8e8e8"/></svg></div><div class="nm sx" style="transform:scaleX(0.931)">LFB_Training_Campaign_20250922</div><div class="sb sx" style="transform:scaleX(0.948)">This is a subject line {{first_name}}</div><div class="tag" style="left:524px;top:18px;width:45px"></div><div class="tg sx" style="transform:scaleX(0.943);left:532px;top:22px">Email</div><div class="tag" style="left:700px;top:17px;width:68px;background:#f6ffed;border-color:#b7eb8f"></div><div class="tg sx" style="transform:scaleX(0.991);left:708px;top:21px;color:#52c41a">Approved</div><div class="ln sx" style="transform:scaleX(0.987)">Immediate</div><div class="tag" style="left:1041px;top:18px;width:51px"></div><div class="tg sx" style="transform:scaleX(1.038);left:1049px;top:22px">loyalty</div><div class="tag" style="left:1100px;top:18px;width:33px"></div><div class="tg sx" style="transform:scaleX(0.946);left:1108px;top:22px">+ 2</div><div class="d1 sx" style="transform:scaleX(0.891)">8 days</div><div class="ag sx" style="transform:scaleX(0.919);left:1256.0px">ago</div><div class="d2 sx" style="transform:scaleX(0.991)">October 2, 2025</div><svg class="mo" viewBox="0 0 14 4"><circle cx="2" cy="2" r="1.150" fill="#666"/><circle cx="7" cy="2" r="1.150" fill="#666"/><circle cx="12" cy="2" r="1.150" fill="#666"/></svg></div>
<div class="row" style="top:268px"><div class="lmc"></div><div class="thumb" style="background:#bdbdbd"></div><svg class="abs" style="left:25px;top:21.500px" width="16" height="13.700" viewBox="0 0 14 12" fill="none" stroke="#fff" stroke-width="1.350" stroke-linejoin="round" stroke-linecap="round"><rect x=".9" y=".9" width="12.200" height="10.200" rx="1.800"/><path d="M1.200 2.600 L7 6.800 L12.800 2.600"/></svg><div class="nm sx" style="transform:scaleX(0.914);top:21px">kdm segment</div><div class="tag" style="left:524px;top:18px;width:45px"></div><div class="tg sx" style="transform:scaleX(0.943);left:532px;top:22px">Email</div><div class="tag" style="left:700px;top:17px;width:45px"></div><div class="tg sx" style="transform:scaleX(1.049);left:708px;top:21px">Draft</div><div class="ln sx" style="transform:scaleX(0.987)">Immediate</div><div class="d1 sx" style="transform:scaleX(0.908)">15 days</div><div class="ag sx" style="transform:scaleX(0.919);left:1263.3px">ago</div><div class="d2 sx" style="transform:scaleX(0.973)">September 24, 2025</div><svg class="mo" viewBox="0 0 14 4"><circle cx="2" cy="2" r="1.150" fill="#666"/><circle cx="7" cy="2" r="1.150" fill="#666"/><circle cx="12" cy="2" r="1.150" fill="#666"/></svg></div>
<div class="row" style="top:325px"><div class="lmc"></div><div class="thumb" style="background:#bdbdbd"></div><svg class="abs" style="left:24.500px;top:20px" width="17" height="17" viewBox="0 0 24 24" fill="none" stroke="#fff" stroke-width="2.200" stroke-linecap="round" stroke-linejoin="round"><path d="M18 16.980h-5.990c-1.100 0-1.950.940-2.480 1.900A4 4 0 0 1 2 17c.010-.700.200-1.400.570-2"/><path d="m6 17 3.130-5.780c.530-.970.100-2.180-.500-3.100a4 4 0 1 1 6.890-4.060"/><path d="m12 6 3.130 5.730C15.660 12.700 16.900 13 18 13a4 4 0 0 1 0 8"/></svg><div class="nm sx" style="transform:scaleX(0.965)">KM - DM Test</div><div class="sb sx" style="transform:scaleX(0.982)">Test Direct Mail Campaign</div><div class="tag" style="left:524px;top:18px;width:86px"></div><div class="tg sx" style="transform:scaleX(0.997);left:532px;top:22px">Direct Mail ...</div><div class="tag" style="left:700px;top:17px;width:45px"></div><div class="tg sx" style="transform:scaleX(1.049);left:708px;top:21px">Draft</div><div class="ln sx" style="transform:scaleX(0.987)">Immediate</div><div class="d1 sx" style="transform:scaleX(0.908)">18 days</div><div class="ag sx" style="transform:scaleX(0.919);left:1263.3px">ago</div><div class="d2 sx" style="transform:scaleX(0.973)">September 22, 2025</div><svg class="mo" viewBox="0 0 14 4"><circle cx="2" cy="2" r="1.150" fill="#666"/><circle cx="7" cy="2" r="1.150" fill="#666"/><circle cx="12" cy="2" r="1.150" fill="#666"/></svg></div>
<div class="row" style="top:382px"><div class="lmc"></div><div class="thumb" style="background:#bdbdbd"></div><svg class="abs" style="left:25px;top:21.500px" width="16" height="13.700" viewBox="0 0 14 12" fill="none" stroke="#fff" stroke-width="1.350" stroke-linejoin="round" stroke-linecap="round"><rect x=".9" y=".9" width="12.200" height="10.200" rx="1.800"/><path d="M1.200 2.600 L7 6.800 L12.800 2.600"/></svg><div class="nm sx" style="top:20px">KM - Market Launch</div><div class="tag" style="left:524px;top:18px;width:45px"></div><div class="tg sx" style="transform:scaleX(0.943);left:532px;top:22px">Email</div><div class="tag" style="left:700px;top:17px;width:45px"></div><div class="tg sx" style="transform:scaleX(1.049);left:708px;top:21px">Draft</div><div class="ln sx" style="transform:scaleX(0.987)">Immediate</div><div class="d1 sx" style="transform:scaleX(0.908)">22 days</div><div class="ag sx" style="transform:scaleX(0.919);left:1263.3px">ago</div><div class="d2 sx" style="transform:scaleX(0.973)">September 18, 2025</div><svg class="mo" viewBox="0 0 14 4"><circle cx="2" cy="2" r="1.150" fill="#666"/><circle cx="7" cy="2" r="1.150" fill="#666"/><circle cx="12" cy="2" r="1.150" fill="#666"/></svg></div>
<div class="abs" style="left:1424px;top:40px;width:15px;height:366px;background:#f1f1f1;border-left:1px solid #e8e8e8"></div><div class="abs" style="left:1428px;top:43px;width:8px;height:140px;border-radius:4px;background:#b3b3b3"></div>
</div>
<svg class="abs" style="left:0;top:822px" width="10" height="10" viewBox="0 0 10 10"><path d="M0 0A10 10 0 0 0 10 10H0Z" fill="#dadada"/></svg>
<svg class="abs" style="left:1717px;top:821px" width="11" height="11" viewBox="0 0 11 11"><path d="M11 0A11 11 0 0 1 0 11H11Z" fill="#7d6a30"/></svg>
</body>
</html>
